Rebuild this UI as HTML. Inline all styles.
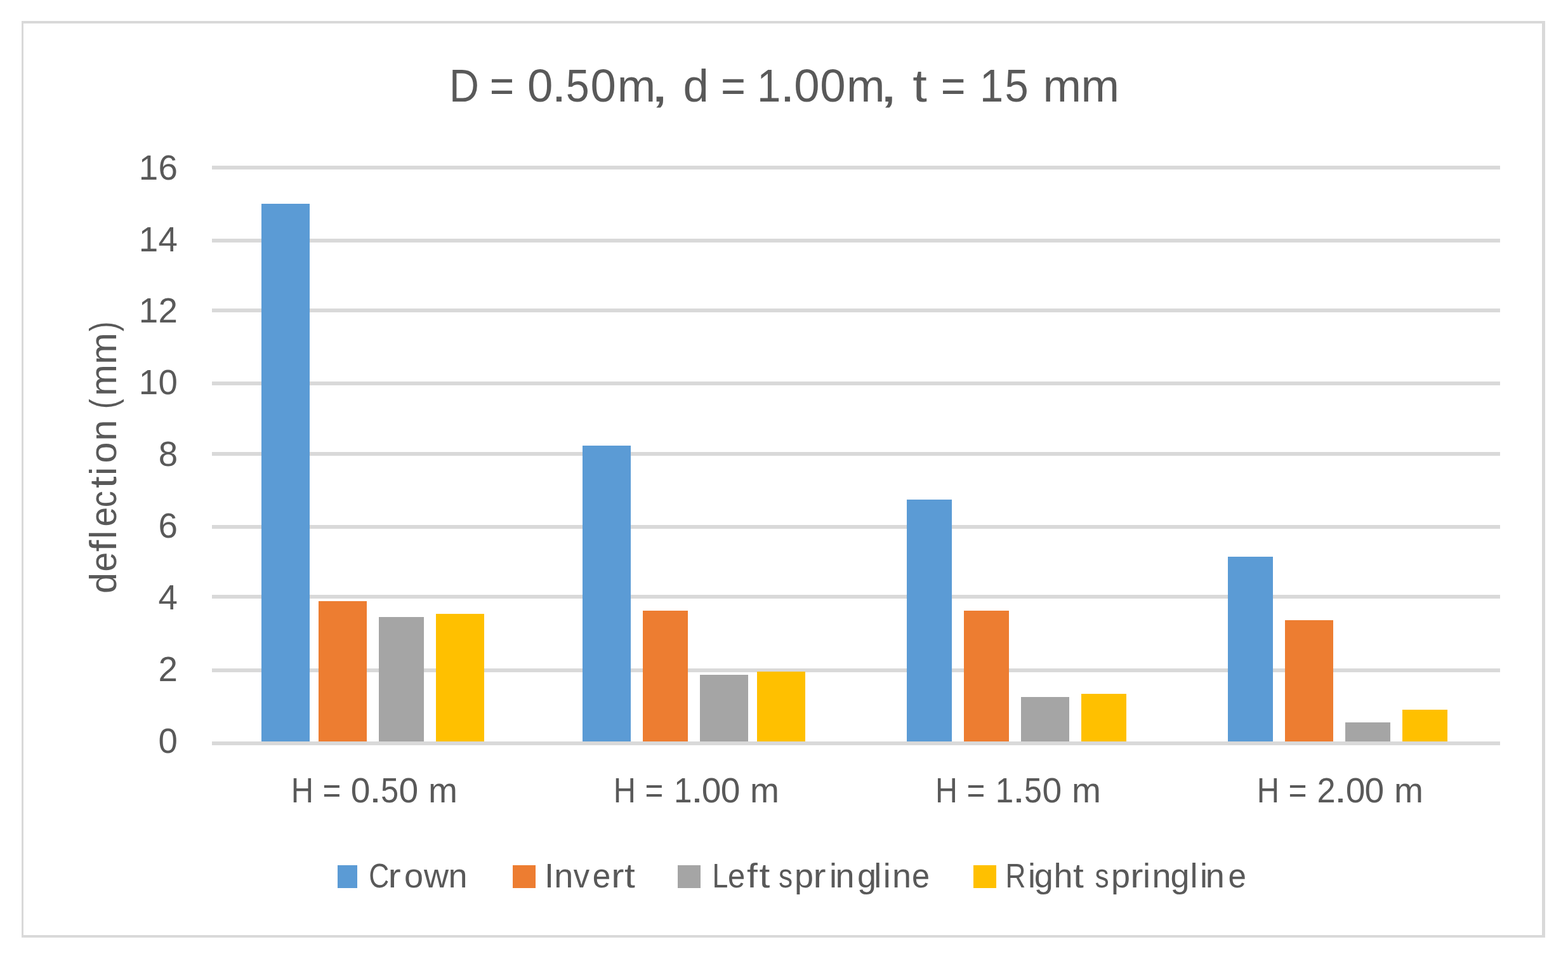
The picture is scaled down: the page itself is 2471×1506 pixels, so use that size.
<!DOCTYPE html>
<html lang="en">
<head>
<meta charset="utf-8">
<title>D = 0.50m, d = 1.00m, t = 15 mm</title>
<style>
html,body{margin:0;padding:0;background:#fff;}
body{width:2471px;height:1506px;overflow:hidden;}
svg{display:block;}
text{font-family:"Liberation Sans",sans-serif;fill:#595959;white-space:pre;}
</style>
</head>
<body>
<svg width="2471" height="1506" viewBox="0 0 2471 1506" shape-rendering="crispEdges">
<rect x="0" y="0" width="2471" height="1506" fill="#fff"/>

<g id="frame" fill="#D9D9D9">
<rect x="34" y="33" width="2401" height="4"/>
<rect x="34" y="1473" width="2401" height="4"/>
<rect x="34" y="33" width="3" height="1444"/>
<rect x="2430" y="33" width="5" height="1444"/>
</g>
<g id="gridlines" fill="#D9D9D9">
<rect x="334" y="261" width="2030" height="6"/>
<rect x="334" y="376" width="2030" height="6"/>
<rect x="334" y="486" width="2030" height="6"/>
<rect x="334" y="601" width="2030" height="6"/>
<rect x="334" y="712" width="2030" height="6"/>
<rect x="334" y="827" width="2030" height="6"/>
<rect x="334" y="937" width="2030" height="6"/>
<rect x="334" y="1053" width="2030" height="6"/>
</g>
<g id="bars">
<rect x="412" y="321" width="76" height="847" fill="#5B9BD5"/>
<rect x="502" y="947" width="76" height="221" fill="#ED7D31"/>
<rect x="597" y="972" width="71" height="196" fill="#A5A5A5"/>
<rect x="687" y="967" width="76" height="201" fill="#FFC000"/>
<rect x="918" y="702" width="76" height="466" fill="#5B9BD5"/>
<rect x="1013" y="962" width="71" height="206" fill="#ED7D31"/>
<rect x="1103" y="1063" width="76" height="105" fill="#A5A5A5"/>
<rect x="1193" y="1058" width="76" height="110" fill="#FFC000"/>
<rect x="1429" y="787" width="71" height="381" fill="#5B9BD5"/>
<rect x="1519" y="962" width="71" height="206" fill="#ED7D31"/>
<rect x="1609" y="1098" width="76" height="70" fill="#A5A5A5"/>
<rect x="1704" y="1093" width="71" height="75" fill="#FFC000"/>
<rect x="1935" y="877" width="71" height="291" fill="#5B9BD5"/>
<rect x="2025" y="977" width="76" height="191" fill="#ED7D31"/>
<rect x="2120" y="1138" width="71" height="30" fill="#A5A5A5"/>
<rect x="2210" y="1118" width="71" height="50" fill="#FFC000"/>
</g>
<rect id="axis" x="334" y="1168" width="2030" height="6" fill="#D9D9D9"/>
<g id="title">
<text y="160.4" font-size="72.6" aria-label="D = 0.50m, d = 1.00m, t = 15 mm"><tspan x="708.1" textLength="46.94" lengthAdjust="spacingAndGlyphs">D</tspan><tspan x="755.0"> </tspan><tspan x="771.8" textLength="38.46" lengthAdjust="spacingAndGlyphs">=</tspan><tspan x="810.2 831.0"> 0</tspan><tspan x="869.3" textLength="23.34" lengthAdjust="spacingAndGlyphs">.</tspan><tspan x="891.8" textLength="36.95" lengthAdjust="spacingAndGlyphs">5</tspan><tspan x="930.6 972.7">0m</tspan><tspan x="1024.4" textLength="30.26" lengthAdjust="spacingAndGlyphs">,</tspan><tspan x="1054.6 1076.5 1116.9"> d </tspan><tspan x="1136.1" textLength="38.95" lengthAdjust="spacingAndGlyphs">=</tspan><tspan x="1175.1"> </tspan><tspan x="1192.9" textLength="37.41" lengthAdjust="spacingAndGlyphs">1</tspan><tspan x="1229.3" textLength="23.34" lengthAdjust="spacingAndGlyphs">.</tspan><tspan x="1251.3 1292.3 1333.9">00m</tspan><tspan x="1385.2" textLength="30.26" lengthAdjust="spacingAndGlyphs">,</tspan><tspan x="1415.5"> </tspan><tspan x="1438.2" textLength="22.59" lengthAdjust="spacingAndGlyphs">t</tspan><tspan x="1460.8"> </tspan><tspan x="1482.8" textLength="38.82" lengthAdjust="spacingAndGlyphs">=</tspan><tspan x="1521.6"> </tspan><tspan x="1543.9" textLength="37.15" lengthAdjust="spacingAndGlyphs">1</tspan><tspan x="1583.6" textLength="37.18" lengthAdjust="spacingAndGlyphs">5</tspan><tspan x="1620.8 1643.5 1703.6"> mm</tspan></text>
</g>
<g id="yticks">
<text x="218.8 249.6" y="283" font-size="54.7">16</text>
<text x="218.8 249.6" y="396" font-size="54.7">14</text>
<text x="218.8 249.4" y="508" font-size="54.7">12</text>
<text x="218.8 249.5" y="621" font-size="54.7">10</text>
<text x="249.8" y="734" font-size="54.7">8</text>
<text x="249.6" y="847" font-size="54.7">6</text>
<text x="249.6" y="960" font-size="54.7">4</text>
<text x="249.4" y="1073" font-size="54.7">2</text>
<text x="249.5" y="1186" font-size="54.7">0</text>
</g>
<g id="categories">
<text y="1264" font-size="55.2" aria-label="H = 0.50 m"><tspan x="458.8" textLength="35.29" lengthAdjust="spacingAndGlyphs">H</tspan><tspan x="494.1"> </tspan><tspan x="508.6" textLength="28.85" lengthAdjust="spacingAndGlyphs">=</tspan><tspan x="537.4 552.8"> 0</tspan><tspan x="581.5" textLength="19.94" lengthAdjust="spacingAndGlyphs">.</tspan><tspan x="600.0" textLength="28.15" lengthAdjust="spacingAndGlyphs">5</tspan><tspan x="628.6 659.2 674.9">0 m</tspan></text>
<text y="1264" font-size="55.2" aria-label="H = 1.00 m"><tspan x="966.7" textLength="35.17" lengthAdjust="spacingAndGlyphs">H</tspan><tspan x="1001.9"> </tspan><tspan x="1016.6" textLength="28.85" lengthAdjust="spacingAndGlyphs">=</tspan><tspan x="1045.4"> </tspan><tspan x="1062.0" textLength="28.51" lengthAdjust="spacingAndGlyphs">1</tspan><tspan x="1088.5" textLength="19.94" lengthAdjust="spacingAndGlyphs">.</tspan><tspan x="1105.7 1135.7 1166.3 1182.1">00 m</tspan></text>
<text y="1264" font-size="55.2" aria-label="H = 1.50 m"><tspan x="1473.9" textLength="34.91" lengthAdjust="spacingAndGlyphs">H</tspan><tspan x="1508.8"> </tspan><tspan x="1523.6" textLength="28.85" lengthAdjust="spacingAndGlyphs">=</tspan><tspan x="1552.4"> </tspan><tspan x="1568.8" textLength="28.51" lengthAdjust="spacingAndGlyphs">1</tspan><tspan x="1595.5" textLength="19.94" lengthAdjust="spacingAndGlyphs">.</tspan><tspan x="1614.0" textLength="27.92" lengthAdjust="spacingAndGlyphs">5</tspan><tspan x="1642.5 1673.1 1688.9">0 m</tspan></text>
<text y="1264" font-size="55.2" aria-label="H = 2.00 m"><tspan x="1980.8" textLength="35.29" lengthAdjust="spacingAndGlyphs">H</tspan><tspan x="2016.1"> </tspan><tspan x="2030.4" textLength="29.09" lengthAdjust="spacingAndGlyphs">=</tspan><tspan x="2059.5"> </tspan><tspan x="2075.4" textLength="29.05" lengthAdjust="spacingAndGlyphs">2</tspan><tspan x="2102.5" textLength="19.94" lengthAdjust="spacingAndGlyphs">.</tspan><tspan x="2120.7 2150.6 2181.2 2197.0">00 m</tspan></text>
</g>
<g id="legend">
<rect x="532" y="1363" width="31" height="36" fill="#5B9BD5"/>
<rect x="808" y="1363" width="36" height="36" fill="#ED7D31"/>
<rect x="1068" y="1363" width="36" height="36" fill="#A5A5A5"/>
<rect x="1534" y="1363" width="36" height="36" fill="#FFC000"/>
<text y="1398" font-size="54.0" aria-label="Crown"><tspan x="581.2" textLength="31.98" lengthAdjust="spacingAndGlyphs">C</tspan><tspan x="611.4" textLength="20.14" lengthAdjust="spacingAndGlyphs">r</tspan><tspan x="637.0 668.0 706.4">own</tspan></text>
<text y="1398" font-size="54.0" aria-label="Invert"><tspan x="858.0 873.3">In</tspan><tspan x="903.8" textLength="25.35" lengthAdjust="spacingAndGlyphs">v</tspan><tspan x="933.8" textLength="28.45" lengthAdjust="spacingAndGlyphs">e</tspan><tspan x="963.3" textLength="20.14" lengthAdjust="spacingAndGlyphs">r</tspan><tspan x="983.9" textLength="16.80" lengthAdjust="spacingAndGlyphs">t</tspan></text>
<text y="1398" font-size="54.0" aria-label="Left springline"><tspan x="1122.6" textLength="24.85" lengthAdjust="spacingAndGlyphs">L</tspan><tspan x="1146.9" textLength="27.26" lengthAdjust="spacingAndGlyphs">e</tspan><tspan x="1177.1" textLength="16.80" lengthAdjust="spacingAndGlyphs">f</tspan><tspan x="1196.4" textLength="16.80" lengthAdjust="spacingAndGlyphs">t</tspan><tspan x="1213.2"> </tspan><tspan x="1226.9" textLength="22.14" lengthAdjust="spacingAndGlyphs">s</tspan><tspan x="1252.0">p</tspan><tspan x="1281.6" textLength="19.98" lengthAdjust="spacingAndGlyphs">r</tspan><tspan x="1306.9 1316.4 1351.1 1377.2 1391.7 1406.1">inglin</tspan><tspan x="1436.9" textLength="28.09" lengthAdjust="spacingAndGlyphs">e</tspan></text>
<text y="1398" font-size="54.0" aria-label="Right springline"><tspan x="1584.5" textLength="31.98" lengthAdjust="spacingAndGlyphs">R</tspan><tspan x="1620.0 1629.8 1660.5">igh</tspan><tspan x="1690.9" textLength="16.80" lengthAdjust="spacingAndGlyphs">t</tspan><tspan x="1707.7"> </tspan><tspan x="1725.6" textLength="22.14" lengthAdjust="spacingAndGlyphs">s</tspan><tspan x="1750.9">p</tspan><tspan x="1781.3" textLength="20.14" lengthAdjust="spacingAndGlyphs">r</tspan><tspan x="1800.9 1815.4 1844.6 1875.4 1890.9 1899.7">inglin</tspan><tspan x="1935.5" textLength="28.45" lengthAdjust="spacingAndGlyphs">e</tspan></text>
</g>
<g id="ytitle" transform="rotate(-90)">
<text y="183" font-size="59.5" aria-label="deflection (mm)"><tspan x="-934.9">d</tspan><tspan x="-900.4" textLength="30.82" lengthAdjust="spacingAndGlyphs">e</tspan><tspan x="-869.3" textLength="18.51" lengthAdjust="spacingAndGlyphs">f</tspan><tspan x="-849.1">l</tspan><tspan x="-829.4" textLength="30.82" lengthAdjust="spacingAndGlyphs">e</tspan><tspan x="-799.2" textLength="25.98" lengthAdjust="spacingAndGlyphs">c</tspan><tspan x="-768.9" textLength="18.51" lengthAdjust="spacingAndGlyphs">t</tspan><tspan x="-749.1 -729.5 -694.5 -661.4">ion </tspan><tspan x="-644.0" textLength="15.45" lengthAdjust="spacingAndGlyphs">(</tspan><tspan x="-623.8 -573.8">mm</tspan><tspan x="-521.9" textLength="15.45" lengthAdjust="spacingAndGlyphs">)</tspan></text>
</g>
</svg>
</body>
</html>
